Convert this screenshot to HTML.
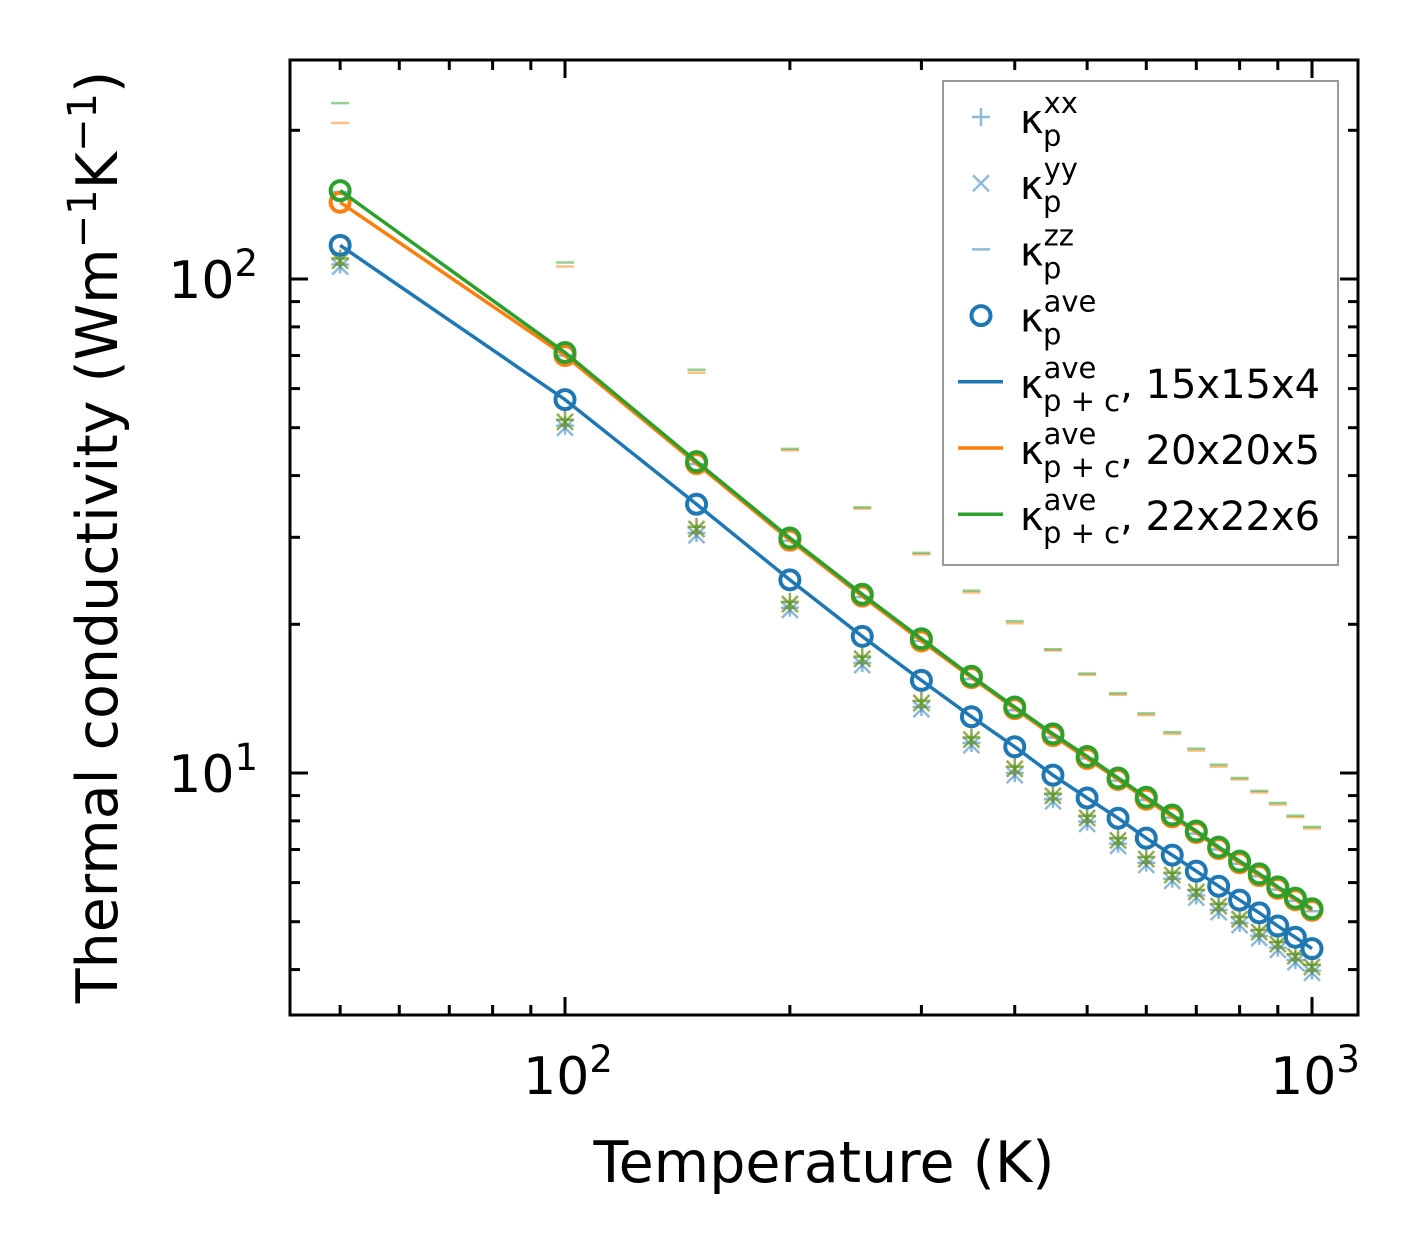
<!DOCTYPE html>
<html><head><meta charset="utf-8"><style>
html,body{margin:0;padding:0;background:#fff;}
svg text{font-family:"DejaVu Sans","Liberation Sans",sans-serif;}
</style></head><body>
<svg id="chart" width="1420" height="1254" xmlns="http://www.w3.org/2000/svg">
<rect x="0" y="0" width="1420" height="1254" fill="#fff"/>
<g id="plot"></g>
<rect x="290" y="60" width="1068" height="955" fill="none" stroke="#000" stroke-width="3"/>
<text x="824" y="1182" font-size="57" text-anchor="middle">Temperature (K)</text>
<text transform="translate(117,537) rotate(-90)" font-size="57" text-anchor="middle">Thermal conductivity (Wm<tspan dy="-21" font-size="40">−1</tspan><tspan dy="21">K</tspan><tspan dy="-21" font-size="40">−1</tspan><tspan dy="21">)</tspan></text>
<g id="legend">
<rect x="943" y="81" width="395" height="484" fill="#fff" stroke="#999" stroke-width="2"/>
</g>
</svg>
<script>
const temps=[50,100,150,200,250,300,350,400,450,500,550,600,650,700,750,800,850,900,950,1000];
const aveBlue=[117,57,35,24.6,18.9,15.4,13.0,11.3,9.9,8.9,8.1,7.38,6.82,6.33,5.9,5.53,5.21,4.90,4.65,4.41];
const aveOrange=[143,70,42.3,29.6,22.8,18.5,15.6,13.5,11.9,10.7,9.7,8.85,8.15,7.58,7.03,6.58,6.2,5.84,5.54,5.27];
const aveGreen=[151,71,42.7,29.9,23.0,18.7,15.7,13.6,12.0,10.8,9.77,8.93,8.22,7.63,7.08,6.63,6.25,5.88,5.58,5.31];
const xxGreen=[110,51.9,31.5,22.2,17.2,14.0,11.8,10.3,9.08,8.19,7.38,6.76,6.28,5.80,5.43,5.11,4.81,4.55,4.30,4.09];
const xxBlue=[107,50.5,30.6,21.6,16.7,13.6,11.5,10.0,8.85,7.97,7.19,6.58,6.11,5.65,5.28,4.97,4.68,4.43,4.18,3.98];
const zzGreen=[227,108,65.5,45.3,34.5,27.9,23.4,20.3,17.8,15.9,14.5,13.2,12.1,11.2,10.4,9.77,9.2,8.7,8.2,7.78];
const zzOrange=[207,106,64.6,45.0,34.3,27.7,23.2,20.1,17.7,15.8,14.4,13.1,12.0,11.1,10.3,9.7,9.13,8.63,8.14,7.72];
const zzBlue=[150,70,42.2,29.5,22.7,18.5,15.5,13.4,11.8,10.7,9.65,8.82,8.12,7.54,7.0,6.55,6.18,5.81,5.51,5.25];
const xTickLabels=["2","3"];
const yTickLabels=["1","2"];
const C={b:"#1f77b4",o:"#ff7f0e",g:"#2ca02c"};
const NS="http://www.w3.org/2000/svg";
const X=v=>565+747*(Math.log10(v)-2);
const Y=v=>279-494*(Math.log10(v)-2);
const plot=document.getElementById('plot');
function mk(tag,attrs,parent){const e=document.createElementNS(NS,tag);for(const k in attrs)e.setAttribute(k,attrs[k]);(parent||plot).appendChild(e);return e;}
const tg=mk('g',{});


function xt(v,len){const x=X(v);mk('line',{x1:x,x2:x,y1:1015,y2:1015-len,stroke:'#000','stroke-width':3},tg);mk('line',{x1:x,x2:x,y1:60,y2:60+len,stroke:'#000','stroke-width':3},tg);}
function yt(v,len){const y=Y(v);mk('line',{x1:290,x2:290+len,y1:y,y2:y,stroke:'#000','stroke-width':3},tg);mk('line',{x1:1358,x2:1358-len,y1:y,y2:y,stroke:'#000','stroke-width':3},tg);}
[40,50,60,70,80,90,200,300,400,500,600,700,800,900].forEach(v=>{if(X(v)>290)xt(v,10)});
[100,1000].forEach(v=>xt(v,18));
[4,5,6,7,8,9,20,30,40,50,60,70,80,90,200].forEach(v=>yt(v,10));
[10,100].forEach(v=>yt(v,18));
[100,1000].forEach((v,i)=>{const t=mk('text',{x:X(v)+3,y:1094,'font-size':52,'text-anchor':'middle'});


t.innerHTML='10<tspan dy="-22" font-size="37">'+xTickLabels[i]+'</tspan>';});
[10,100].forEach((v,i)=>{const t=mk('text',{x:258,y:Y(v)+19,'font-size':52,'text-anchor':'end'});


t.innerHTML='10<tspan dy="-22" font-size="37">'+yTickLabels[i]+'</tspan>';});
function plus(x,y,c,g){mk('path',{d:`M${x-9},${y}h18M${x},${y-9}v18`,stroke:c,'stroke-width':2.5,opacity:0.5},g);}
function cross(x,y,c,g){mk('path',{d:`M${x-8},${y-8}l16,16M${x-8},${y+8}l16,-16`,stroke:c,'stroke-width':2.5,opacity:0.5},g);}
function dash(x,y,c,g){mk('path',{d:`M${x-9},${y}h18`,stroke:c,'stroke-width':2.5,opacity:0.5},g);}
const sets=[['b',xxBlue,aveBlue,zzBlue],['o',xxGreen,aveOrange,zzOrange],['g',xxGreen,aveGreen,zzGreen]];
sets.forEach(([k,xx,ave,zz])=>{
 const g=mk('g',{});
 
 
 temps.forEach((t,i)=>{plus(X(t),Y(xx[i]),C[k],g);cross(X(t),Y(xx[i]*0.99),C[k],g);dash(X(t),Y(zz[i]),C[k],g);});
});
sets.forEach(([k,xx,ave])=>{
 const p=mk('polyline',{points:temps.map((t,i)=>X(t)+','+Y(ave[i])).join(' '),fill:'none',stroke:C[k],'stroke-width':3.5});
 
 
 const g=mk('g',{});
 
 
 temps.forEach((t,i)=>mk('circle',{cx:X(t),cy:Y(ave[i]),r:9.5,fill:'none',stroke:C[k],'stroke-width':4},g));
});
const lg=document.getElementById('legend');
const entries=[['plus','xx',''],['cross','yy',''],['dash','zz',''],['circ','ave',''],['line-b','ave',', 15x15x4'],['line-o','ave',', 20x20x5'],['line-g','ave',', 22x22x6']];
entries.forEach((e,i)=>{
 const y=117+i*66.2;const mx=981;
 const g=mk('g',{},lg);
 
 
 if(e[0]=='plus')plus(mx,y,C.b,g);
 else if(e[0]=='cross')cross(mx,y,C.b,g);
 else if(e[0]=='dash')dash(mx,y,C.b,g);
 else if(e[0]=='circ')mk('circle',{cx:mx,cy:y,r:9.5,fill:'none',stroke:C.b,'stroke-width':4},g);
 else mk('line',{x1:958,x2:1003,y1:y,y2:y,stroke:C[e[0].slice(-1)],'stroke-width':3.5},g);
 const t=mk('text',{x:1020,y:y+16,'font-size':40},g);
 const sub=e[0].startsWith('line')?'p + c':'p';
 t.innerHTML='κ<tspan dy="-20" font-size="29">'+e[1]+'</tspan><tspan x="1043" dy="33" font-size="29">'+sub+'</tspan><tspan dy="-13">'+e[2]+'</tspan>';
});
</script>
</body></html>
